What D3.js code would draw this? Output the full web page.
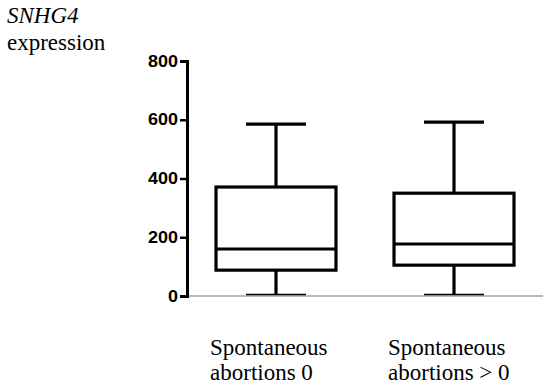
<!DOCTYPE html>
<html><head><meta charset="utf-8">
<script src="https://cdn.jsdelivr.net/npm/d3@7"></script>
<style>body{margin:0;background:#fff}svg{display:block}</style>
</head><body>
<script>
const categories = ["Spontaneous|abortions 0", "Spontaneous|abortions > 0"];
const minV    = [5, 5];
const q1V     = [88, 105];
const medianV = [160, 177];
const q3V     = [371, 350];
const maxV    = [585, 592];
const yTicks  = [0, 200, 400, 600, 800];

const W = 550, H = 389;
const svg = d3.select("body").append("svg").attr("width", W).attr("height", H);

const y = d3.scaleLinear().domain([0, 800]).range([296, 61]);
const x = d3.scaleBand().domain(categories).range([187, 543]).paddingInner(0.326).paddingOuter(0.163);

// baseline
svg.append("line").attr("x1", 187).attr("x2", 543).attr("y1", y(0)).attr("y2", y(0))
  .attr("stroke", "#777").attr("stroke-width", 1.2);

// y axis
const ax = svg.append("g").attr("transform", "translate(187,0)")
  .call(d3.axisLeft(y).tickValues(yTicks).tickSize(7).tickPadding(2).tickFormat(d3.format("d")));
ax.attr("font-family", "Liberation Sans").attr("font-size", 16);
ax.select(".domain").attr("stroke", "#000").attr("stroke-width", 3);
ax.selectAll(".tick line").attr("stroke", "#000").attr("stroke-width", 2.5);
ax.selectAll(".tick text")
  .attr("font-family", "Liberation Sans")
  .attr("font-weight", "bold").attr("font-size", 16).attr("fill", "#000")
  .attr("textLength", d => String(d).length * 10).attr("lengthAdjust", "spacingAndGlyphs");

const data = categories.map((c, i) => ({c, min: minV[i], q1: q1V[i], med: medianV[i], q3: q3V[i], max: maxV[i]}));
const bw = x.bandwidth();
const g = svg.append("g").selectAll("g").data(data).join("g")
  .attr("transform", d => `translate(${x(d.c)},0)`);
const sw = 3.2;
const cap = 30;
// whiskers
g.append("line").attr("x1", bw/2).attr("x2", bw/2).attr("y1", d => y(d.max)).attr("y2", d => y(d.q3))
  .attr("stroke", "#000").attr("stroke-width", sw);
g.append("line").attr("x1", bw/2).attr("x2", bw/2).attr("y1", d => y(d.q1)).attr("y2", d => y(d.min))
  .attr("stroke", "#000").attr("stroke-width", sw);
g.append("line").attr("x1", bw/2 - cap).attr("x2", bw/2 + cap).attr("y1", d => y(d.max)).attr("y2", d => y(d.max))
  .attr("stroke", "#000").attr("stroke-width", sw);
g.append("line").attr("x1", bw/2 - cap).attr("x2", bw/2 + cap).attr("y1", d => y(d.min)).attr("y2", d => y(d.min))
  .attr("stroke", "#000").attr("stroke-width", 1.5);
// box
g.append("rect").attr("x", 0).attr("width", bw).attr("y", d => y(d.q3)).attr("height", d => y(d.q1) - y(d.q3))
  .attr("fill", "none").attr("stroke", "#000").attr("stroke-width", sw);
g.append("line").attr("x1", 0).attr("x2", bw).attr("y1", d => y(d.med)).attr("y2", d => y(d.med))
  .attr("stroke", "#000").attr("stroke-width", sw);

// category labels
g.each(function(d){
  const parts = d.c.split("|");
  const t = d3.select(this).append("text").attr("font-family", "Liberation Serif").attr("font-size", 23).attr("fill", "#000");
  parts.forEach((p, k) => t.append("tspan").attr("x", -6).attr("y", 355 + k * 25).text(p));
});

// y title
svg.append("text").attr("x", 7).attr("y", 23).attr("font-family", "Liberation Serif").attr("font-style", "italic")
  .attr("font-size", 23).text("SNHG4");
svg.append("text").attr("x", 7).attr("y", 50).attr("font-family", "Liberation Serif")
  .attr("font-size", 23).text("expression");
</script>
</body></html>
